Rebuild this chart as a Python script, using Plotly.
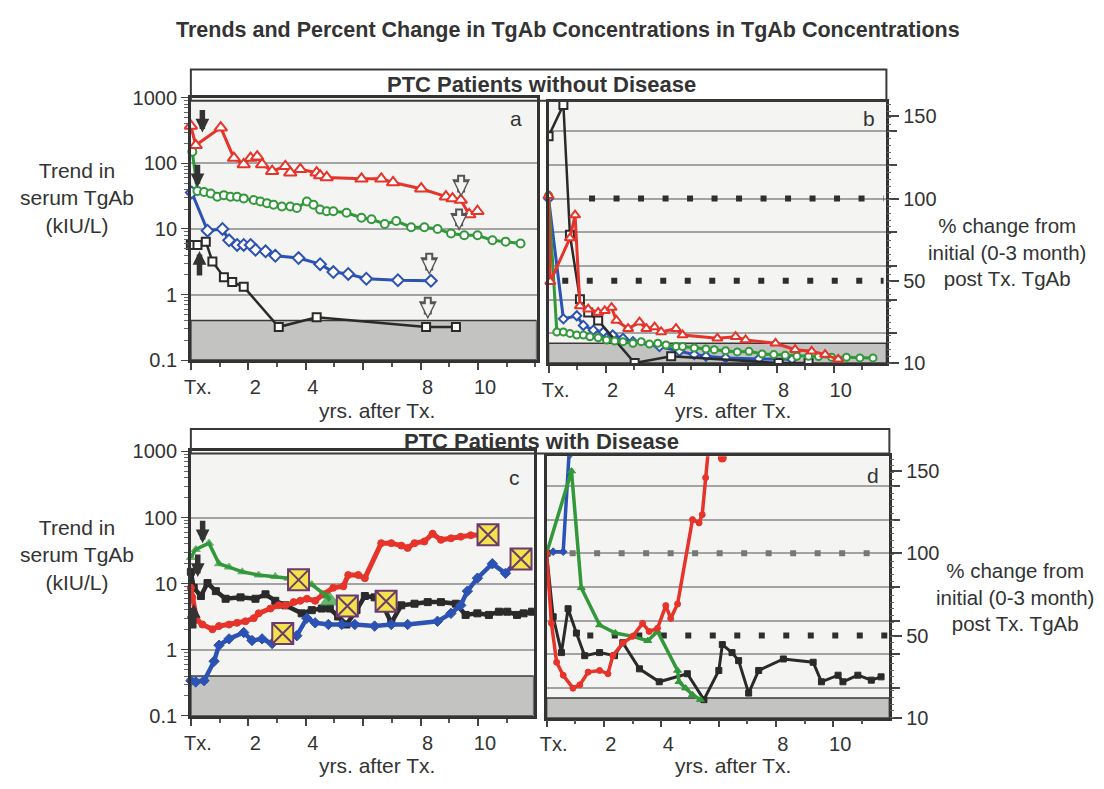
import numpy as np
import plotly.graph_objects as go

W, H = 1104, 789
OFF = 8  # page body margin
FW, FH = W - OFF, H - OFF

# ---------------- DATA ----------------
# Panel a: PTC patients without disease, TgAb (kIU/L), years after Tx
a_red_x = [0, 0.17, 1.04, 1.5, 1.84, 2.08, 2.31, 2.48, 2.83, 3.29, 3.46, 3.81, 4.38, 4.5, 4.73, 5.94, 6.63, 7.04, 8.02, 8.88, 9.11, 9.4, 9.69, 9.98]
a_red_y = [371, 188, 350, 120, 96, 120, 126, 96, 76, 90, 72, 81, 72, 65, 61, 58, 58, 51, 41, 31, 29, 27.5, 16.6, 18.6]
a_green_x = [0.05, 0.23, 0.46, 0.69, 0.92, 1.15, 1.38, 1.61, 1.84, 2.19, 2.42, 2.65, 2.88, 3.17, 3.46, 3.69, 4.04, 4.27, 4.5, 4.73, 4.96, 5.42, 5.94, 6.29, 6.75, 7.15, 7.67, 8.13, 8.59, 9.06, 9.52, 9.98, 10.5, 10.96, 11.48]
a_green_y = [150, 38, 36.6, 34.7, 30.9, 32.7, 30.9, 30.9, 29.2, 27.6, 26.1, 24.7, 23.3, 22, 22, 20.9, 26.1, 23.3, 19.7, 18.6, 18.6, 17.6, 14.8, 14, 11.9, 13.2, 10.6, 10.6, 10, 8.5, 8, 8, 6.7, 6.4, 6.0]
a_blue_x = [0.03, 0.58, 1.1, 1.33, 1.61, 1.84, 2.08, 2.25, 2.6, 2.94, 3.75, 4.5, 4.96, 5.48, 6.11, 7.21, 8.36]
a_blue_y = [36, 9.4, 10, 6.7, 5.7, 5.7, 5.7, 4.8, 4.55, 3.9, 3.6, 2.9, 2.2, 2.06, 1.74, 1.65, 1.62]
a_black_x = [0, 0.23, 0.52, 0.75, 1.15, 1.44, 1.84, 3.06, 4.38, 8.19, 9.23]
a_black_y = [5.7, 5.7, 6.4, 3.2, 1.84, 1.55, 1.31, 0.32, 0.45, 0.32, 0.32]

# Panel b: % change from initial TgAb, patients without disease
b_red_x = [0, 0.06, 0.75, 0.93, 1.1, 1.39, 1.74, 1.97, 2.21, 2.38, 2.79, 3.19, 3.43, 3.72, 3.95, 4.47, 4.70, 5.92, 6.56, 6.91, 7.96, 8.65, 9.23, 9.7, 10.16]
b_red_y = [101.8, 49.6, 76, 90, 37.8, 36.2, 34.6, 35.4, 37, 30.7, 26.7, 29.9, 26.7, 27.5, 25.1, 26.7, 23.6, 22, 22.8, 21.2, 19.6, 16.5, 15.7, 14.1, 11.8]
b_green_x = [0, 0.29, 0.52, 0.75, 0.99, 1.22, 1.45, 1.74, 2.03, 2.32, 2.61, 2.96, 3.25, 3.54, 3.83, 4.12, 4.47, 4.70, 5.11, 5.52, 5.81, 6.21, 6.62, 7.03, 7.49, 7.90, 8.3, 8.71, 9.12, 9.47, 9.93, 10.45, 10.92, 11.38]
b_green_y = [102, 25.1, 25.1, 24.4, 23.6, 23.6, 22.8, 22.3, 21.2, 20.7, 20.4, 19.6, 20.4, 19.2, 19.6, 18.8, 18, 18, 17.3, 16.8, 16.5, 16, 15.4, 15.7, 14.4, 14.1, 13.8, 13.3, 13.3, 13.2, 12.8, 12.8, 12.5, 12.5]
b_blue_x = [0, 0.52, 0.99, 1.22, 1.57, 1.92, 2.25, 2.61, 2.96, 3.89, 4.59, 5.11, 5.52, 6.21, 7.38, 8.54]
b_blue_y = [100, 31.5, 33, 28.3, 26, 25.1, 23.6, 22, 20.4, 18, 15.7, 14.1, 13.3, 12.5, 12, 11.8]
b_black_x = [0, 0.52, 0.75, 1.1, 1.39, 1.74, 3.02, 4.3, 8.07, 9.12]
b_black_y = [138, 157, 78, 41, 34.6, 30.7, 10, 13.3, 10, 10]

# Panel c: PTC patients with disease, TgAb (kIU/L)
c_red_x = [0, 0.05, 0.2, 0.4, 0.75, 0.98, 1.33, 1.61, 1.9, 2.19, 2.36, 2.77, 3.06, 3.29, 3.58, 3.81, 4.04, 4.33, 4.61, 4.96, 5.31, 5.48, 5.83, 6.06, 6.63, 6.98, 7.33, 7.55, 7.79, 8.13, 8.42, 8.71, 9.06, 9.4, 9.75, 10.3]
c_red_y = [8.65, 6.2, 2.84, 2.41, 2.04, 2.28, 2.41, 2.55, 2.69, 3.0, 3.55, 4.2, 4.7, 4.7, 5.25, 5.5, 5.9, 5.5, 6.9, 8.65, 9.1, 13.5, 13.5, 12.1, 41, 41, 37.6, 34.7, 41, 43.4, 57, 46, 48.5, 51.3, 54, 55]
c_green_x = [0, 0.17, 0.63, 0.98, 1.33, 1.79, 2.36, 2.94, 3.4, 3.75, 4.21, 4.73, 4.84]
c_green_y = [24.9, 32.9, 41, 20, 17.8, 15.1, 13.5, 12.8, 12.1, 11.4, 9.7, 6.5, 5.5]
c_blue_x = [0, 0.17, 0.46, 0.81, 0.98, 1.33, 1.84, 2.13, 2.48, 2.83, 3.69, 4.04, 4.33, 4.79, 5.25, 5.71, 6.4, 6.98, 7.55, 8.59, 9.06, 9.4, 9.63, 9.98, 10.5, 10.96, 11.36, 11.53]
c_blue_y = [0.34, 0.325, 0.34, 0.67, 1.17, 1.46, 1.82, 1.38, 1.46, 1.24, 1.63, 3.0, 2.55, 2.41, 2.41, 2.41, 2.28, 2.41, 2.41, 2.69, 3.55, 4.7, 7.7, 12.1, 20, 14.3, 22.3, 23.6]
c_black_x = [0, 0.1, 0.35, 0.58, 0.87, 1.21, 1.73, 2.25, 2.6, 2.94, 3.29, 3.86, 4.21, 4.56, 4.84, 5.13, 5.42, 5.77, 6.06, 6.4, 6.69, 6.98, 7.33, 7.79, 8.25, 8.71, 9.23, 9.57, 9.98, 10.38, 10.73, 11.02, 11.36, 11.59, 11.88]
c_black_y = [15.1, 8.65, 6.5, 10.2, 7.7, 5.9, 6.2, 5.9, 6.9, 5.5, 4.7, 3.55, 3.97, 4.2, 4.2, 3.18, 2.41, 3.97, 6.5, 6.2, 4.7, 2.55, 4.7, 4.97, 5.25, 5.25, 4.97, 3.36, 3.55, 3.36, 3.76, 3.76, 3.36, 3.55, 3.76]
c_event_x = [3.2, 3.75, 5.45, 6.8, 10.35, 11.5]
c_event_y = [1.76, 11.4, 4.6, 5.4, 55, 23.6]

# Panel d: % change from initial TgAb, patients with disease
d_red_x = [0, 0.17, 0.35, 0.58, 0.92, 1.16, 1.45, 1.85, 2.14, 2.31, 2.66, 3.0, 3.35, 3.58, 3.87, 4.16, 4.33, 4.57, 5.09, 5.32, 5.43, 5.55, 5.66]
d_red_y = [100, 57.4, 37, 30.7, 24.4, 26, 32.2, 33, 31.4, 40.2, 46.4, 49.6, 57.4, 52.5, 54.4, 68.2, 60.4, 69.2, 120.5, 118.5, 123.5, 146, 166]
d_red_last_x = [6.13]
d_red_last_y = [158]
d_green_x = [0, 0.87, 1.21, 1.85, 2.4, 3.0, 3.53, 3.87, 4.57, 4.62, 4.85, 5.09, 5.37]
d_green_y = [100, 150, 79, 56.4, 51.5, 49.6, 47.5, 52.5, 33, 27.5, 24.4, 21.2, 18.8]
d_blue_x = [0, 0.23, 0.58, 0.81, 0.92]
d_blue_y = [100, 101, 101, 160, 200]
d_black_x = [0, 0.23, 0.52, 0.75, 1.04, 1.33, 1.85, 2.37, 2.66, 3.24, 3.93, 4.91, 5.49, 6.01, 6.13, 6.47, 6.7, 7.05, 7.4, 8.26, 9.3, 9.59, 10.17, 10.34, 10.86, 11.33, 11.67]
d_black_y = [100, 61.4, 41.7, 66.3, 51.5, 40.2, 41.7, 40.2, 46.5, 33.8, 27.5, 31.4, 18.8, 33, 45.6, 41.7, 37.8, 22, 33, 38.6, 37, 27.5, 30.7, 27.5, 30.7, 28.3, 29.9]

# reference (dotted) levels, % of initial
b_ref_levels = [100, 50]
b_ref_start = [1.42, 0.48]
d_ref_levels = [100, 50]
d_ref_start = [-0.05, 1.42]
ref_end = 11.75

# undetectable band (kIU/L) and % band
band_tgab = [0.1, 0.4]
band_pct = [10, 19.6]

# tick labels
x_tickvals = [0, 2, 4, 6, 8, 10]
x_ticktext = ["Tx.", "2", "4", "", "8", "10"]
log_tickvals = [0.1, 1, 10, 100, 1000]
log_ticktext = ["0.1", "1", "10", "100", "1000"]
pct_tickvals = [10, 50, 100, 150]
pct_ticktext = ["10", "50", "100", "150"]
# the %-axis is drawn as equal steps between its labelled values
pct_scale_pct = [10, 50, 100, 150, 200]
pct_scale_pos = [0, 1, 2, 3, 4]

# arrows: (panel, x, value, direction, style)
arrows = [
    ("a", 0.40, 295, "down", "solid"),
    ("a", 0.23, 43, "down", "solid"),
    ("a", 0.30, 4.6, "up", "solid"),
    ("a", 9.41, 30.5, "down", "hollow"),
    ("a", 9.34, 9.3, "down", "hollow"),
    ("a", 8.30, 1.97, "down", "hollow"),
    ("a", 8.25, 0.42, "down", "hollow"),
    ("c", 0.41, 41, "down", "solid"),
    ("c", 0.24, 12.6, "down", "solid"),
    ("c", 0.10, 4.9, "up", "solid"),
]

# ---------------- HELPERS ----------------
def pos(p):
    return np.interp(np.asarray(p, dtype=float), pct_scale_pct, pct_scale_pos)

def fx(p):
    return (p - OFF) / FW

def fy(p):
    return 1 - (p - OFF) / FH

RED, GREEN, BLUE, BLACK = "#e6342b", "#32983a", "#2c52b4", "#2a2a2a"
FONT = "Liberation Sans, Arial, sans-serif"
TXT = "#333333"
GRID = "#a3a3a3"
BG = "#f4f4f2"

fig = go.Figure()

# bands
for xa, ya, band, xmax, is_pct in [("x", "y", band_tgab, 12.04, False), ("x2", "y2", band_pct, 11.85, True),
                                   ("x3", "y3", band_tgab, 11.94, False), ("x4", "y4", band_pct, 11.96, True)]:
    lo, hi = band
    yy = [lo, lo, hi, hi, lo]
    if is_pct:
        yy = list(pos(yy))
    fig.add_trace(go.Scatter(x=[0, xmax, xmax, 0, 0], y=yy, xaxis=xa, yaxis=ya, mode="lines",
                             fill="toself", fillcolor="#c3c3c1", line=dict(color="#3a3a3a", width=1.5),
                             hoverinfo="skip", showlegend=False))

# dotted reference lines
for lev, st in zip(b_ref_levels, b_ref_start):
    fig.add_trace(go.Scatter(x=[st, ref_end], y=list(pos([lev, lev])), xaxis="x2", yaxis="y2", mode="lines",
                             line=dict(color="#2e2e2e", width=6, dash="6px,18.5px"),
                             hoverinfo="skip", showlegend=False))
for lev, st, col in zip(d_ref_levels, d_ref_start, ["#777777", "#2e2e2e"]):
    fig.add_trace(go.Scatter(x=[st, ref_end + 0.15], y=list(pos([lev, lev])), xaxis="x4", yaxis="y4", mode="lines",
                             line=dict(color=col, width=6, dash="6px,18.5px"),
                             hoverinfo="skip", showlegend=False))


def series(x, y, xa, ya, color, symbol, size, lw, filled, clip=False, msize=None):
    mk = dict(symbol=symbol, size=msize if msize is not None else size,
              color=color if filled else "white",
              line=dict(color=color, width=1 if filled else 2))
    fig.add_trace(go.Scatter(x=x, y=y, xaxis=xa, yaxis=ya, mode="lines+markers",
                             line=dict(color=color, width=lw), marker=mk,
                             cliponaxis=clip, hoverinfo="skip", showlegend=False))

# panel a
series(a_black_x, a_black_y, "x", "y", BLACK, "square", 8, 2.5, False)
series(a_blue_x, a_blue_y, "x", "y", BLUE, "diamond", 9, 3, False)
series(a_green_x, a_green_y, "x", "y", GREEN, "circle", 8, 3, False)
series(a_red_x, a_red_y, "x", "y", RED, "triangle-up", 11, 3, False)

# panel b
series(b_blue_x, list(pos(b_blue_y)), "x2", "y2", BLUE, "diamond", 7, 3, False)
series(b_black_x, list(pos(b_black_y)), "x2", "y2", BLACK, "square", 8, 2.5, False, clip=True)
series(b_green_x, list(pos(b_green_y)), "x2", "y2", GREEN, "circle", 7, 3, False)
series(b_red_x, list(pos(b_red_y)), "x2", "y2", RED, "triangle-up", 9, 3, False)

# panel c
series(c_black_x, c_black_y, "x3", "y3", BLACK, "square", 7, 4.5, True)
series(c_blue_x, c_blue_y, "x3", "y3", BLUE, "diamond", 8, 4.5, True)
series(c_red_x, c_red_y, "x3", "y3", RED, "circle", 7, 5, True)
series(c_green_x, c_green_y, "x3", "y3", GREEN, "triangle-up", 8, 3.5, True,
       msize=[8] * (len(c_green_x) - 1) + [17])
fig.add_trace(go.Scatter(x=c_event_x, y=c_event_y, xaxis="x3", yaxis="y3", mode="markers",
                         marker=dict(symbol="square-x", size=21, color="#f3e34a",
                                     line=dict(color="#6b3a6e", width=2)),
                         cliponaxis=False, hoverinfo="skip", showlegend=False))

# panel d
series(d_blue_x, list(pos(d_blue_y)), "x4", "y4", BLUE, "diamond", 6, 3.5, True, clip=True)
series(d_black_x, list(pos(d_black_y)), "x4", "y4", BLACK, "square", 6, 3, True, clip=True)
series(d_green_x, list(pos(d_green_y)), "x4", "y4", GREEN, "triangle-up", 7, 3.5, True, clip=True)
series(d_red_x, list(pos(d_red_y)), "x4", "y4", RED, "circle", 6, 3.5, True, clip=True)
fig.add_trace(go.Scatter(x=d_red_last_x, y=list(pos(d_red_last_y)), xaxis="x4", yaxis="y4", mode="markers",
                         marker=dict(color=RED, size=9), hoverinfo="skip", showlegend=False))

# dummy traces so the dense tick axes render
for ya, xa in [("y5", "x2"), ("y6", "x4")]:
    fig.add_trace(go.Scatter(x=[None], y=[None], xaxis=xa, yaxis=ya, mode="markers",
                             hoverinfo="skip", showlegend=False))

# ---------------- AXES ----------------
tickfont = dict(family=FONT, size=20, color=TXT)


def xaxis_cfg(dom, rng, anchor):
    return dict(domain=dom, range=rng, anchor=anchor, tickmode="array", tickvals=x_tickvals,
                ticktext=x_ticktext, ticks="outside", ticklen=7, tickwidth=1.5, tickcolor="#444",
                ticklabelshift=7, tickfont=tickfont, showgrid=False, zeroline=False,
                showline=True, mirror=True, linecolor="#333", linewidth=2.5,
                minor=dict(tickmode="linear", tick0=0, dtick=1, ticks="outside", ticklen=4,
                           tickcolor="#555", showgrid=False))


def logy_cfg(dom, anchor):
    return dict(domain=dom, type="log", range=[-1, 3], anchor=anchor, tickmode="array",
                tickvals=log_tickvals, ticktext=log_ticktext, ticks="outside", ticklen=7,
                tickcolor="#444", tickfont=tickfont, showgrid=True, gridcolor=GRID, gridwidth=1.5,
                zeroline=False, showline=True, mirror=True, linecolor="#333", linewidth=2.5,
                minor=dict(dtick="D1", ticks="outside", ticklen=4, tickcolor="#666", showgrid=False))


def pcty_cfg(dom, anchor):
    return dict(domain=dom, range=[0, 3.18], anchor=anchor, side="right", tickmode="array",
                tickvals=list(pos(pct_tickvals)), ticktext=pct_ticktext, ticks="outside", ticklen=10,
                tickwidth=1.5, tickcolor="#444", tickfont=tickfont, showgrid=False, zeroline=False,
                showline=True, mirror=True, linecolor="#333", linewidth=2.5,
                minor=dict(tickmode="linear", tick0=2, dtick=0.41, ticks="outside", ticklen=8,
                           tickcolor="#444", showgrid=True, gridcolor=GRID, gridwidth=1.5))


def dense_cfg(over, anchor):
    return dict(overlaying=over, anchor=anchor, side="right", range=[0, 3.18], tickmode="linear",
                tick0=0, dtick=0.0828, ticks="outside", ticklen=4, tickcolor="#666",
                showticklabels=False, showgrid=False, zeroline=False, showline=False)


fig.update_layout(
    xaxis=xaxis_cfg([fx(185), fx(533)], [0, 12.04], "y"),
    yaxis=logy_cfg([fy(359), fy(89)], "x"),
    xaxis2=xaxis_cfg([fx(545), fx(885)], [0, 11.85], "y2"),
    yaxis2=pcty_cfg([fy(362), fy(93)], "x2"),
    xaxis3=xaxis_cfg([fx(185), fx(530)], [0, 11.94], "y3"),
    yaxis3=logy_cfg([fy(725), fy(453)], "x3"),
    xaxis4=xaxis_cfg([fx(543), fx(888)], [0, 11.96], "y4"),
    yaxis4=pcty_cfg([fy(727), fy(458)], "x4"),
    yaxis5=dense_cfg("y2", "x2"),
    yaxis6=dense_cfg("y4", "x4"),
)

# ---------------- SHAPES (section frames) ----------------
shapes = []
for (x0, y0, x1, y1) in [(185, 60, 885, 92), (185, 430, 888, 455)]:
    shapes.append(dict(type="rect", xref="paper", yref="paper", x0=fx(x0), x1=fx(x1), y0=fy(y1), y1=fy(y0),
                       line=dict(color="#3a3a3a", width=2), fillcolor="rgba(0,0,0,0)"))
fig.update_layout(shapes=shapes)

# ---------------- ANNOTATIONS ----------------
ann = []


def text(x, y, s, size=21, bold=False, align="center"):
    ann.append(dict(x=fx(x), y=fy(y), xref="paper", yref="paper", text=f"<b>{s}</b>" if bold else s,
                    showarrow=False, xanchor="center", yanchor="middle", align=align,
                    font=dict(family=FONT, size=size, color=TXT)))


text(565, 19, "Trends and Percent Change in TgAb Concentrations in TgAb Concentrations", size=21.5, bold=True)
text(538, 75, "PTC Patients without Disease", size=22, bold=True)
text(538, 443, "PTC Patients with Disease", size=22, bold=True)
text(70, 192, "Trend in<br>serum TgAb<br>(kIU/L)")
text(70, 560, "Trend in<br>serum TgAb<br>(kIU/L)")
text(1006, 248, "% change from<br>initial (0-3 month)<br>post Tx. TgAb", size=20.5)
text(1014, 603, "% change from<br>initial (0-3 month)<br>post Tx. TgAb", size=20.5)
text(372, 411, "yrs. after Tx.")
text(731, 411, "yrs. after Tx.")
text(372, 776, "yrs. after Tx.")
text(731, 776, "yrs. after Tx.")
text(512, 110, "a")
text(867, 110, "b")
text(511, 480, "c")
text(872, 478, "d")

axmap = {"a": ("x", "y"), "c": ("x3", "y3")}
for panel, x, v, direction, style in arrows:
    xr, yr = axmap[panel]
    ay = -24 if direction == "down" else 26
    if style == "solid":
        ann.append(dict(x=x, y=float(np.log10(v)), xref=xr, yref=yr, ax=0, ay=ay, text="",
                        showarrow=True, arrowhead=2, arrowsize=0.5, arrowwidth=5.5, arrowcolor="#333333"))
    else:
        ann.append(dict(x=x, y=float(np.log10(v)), xref=xr, yref=yr, ax=0, ay=ay, text="",
                        showarrow=True, arrowhead=2, arrowsize=0.45, arrowwidth=8, arrowcolor="#555555"))
        ann.append(dict(x=x, y=float(np.log10(v)), xref=xr, yref=yr, ax=0, ay=ay + 2, text="",
                        showarrow=True, arrowhead=2, arrowsize=0.6, arrowwidth=4, arrowcolor="#f4f4f4",
                        standoff=3))

fig.update_layout(annotations=ann)

fig.update_layout(width=FW, height=FH, autosize=False, margin=dict(l=0, r=0, t=0, b=0),
                  paper_bgcolor="white", plot_bgcolor=BG, showlegend=False,
                  font=dict(family=FONT, size=20, color=TXT))

fig.write_html("out.html", include_plotlyjs=True, full_html=True,
               config={"displayModeBar": False})
